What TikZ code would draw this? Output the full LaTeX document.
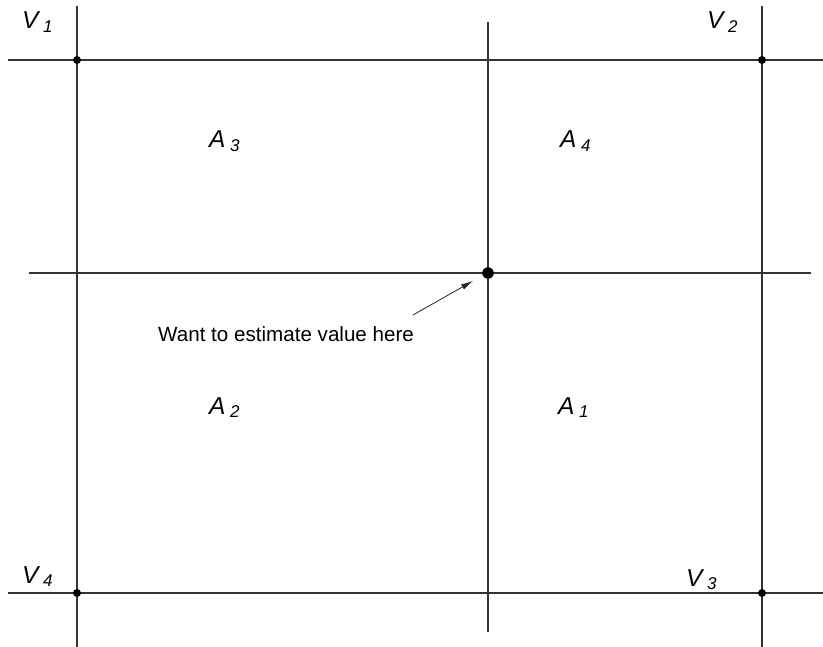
\documentclass[tikz,border=0pt]{standalone}
\usepackage{fontspec}
\setmainfont{Liberation Sans}
\usetikzlibrary{arrows.meta}
\tikzset{
  gridline/.style={line width=1.2pt, black!80},
  corner/.style={circle, fill=black, inner sep=0pt, minimum size=8pt},
  centerdot/.style={circle, fill=black, inner sep=0pt, minimum size=11.5pt},
  lbl/.style={anchor=base west, inner sep=0pt, font=\fontsize{24.5}{28}\selectfont\itshape},
  note/.style={anchor=base west, inner sep=0pt, font=\fontsize{20.6}{24}\selectfont}
}
\newcommand{\sublbl}[2]{#1\hspace{4.5pt}\raisebox{-3.5pt}{\fontsize{17}{18}\selectfont\itshape #2}}
\begin{document}
\begin{tikzpicture}[x=1pt,y=-1pt]
\useasboundingbox (0,0) rectangle (823,647);
% grid line end points
\coordinate (l1t) at (77,6);   \coordinate (l1b) at (77,647);
\coordinate (l2t) at (488,22); \coordinate (l2b) at (488,632);
\coordinate (l3t) at (762,6);  \coordinate (l3b) at (762,647);
\coordinate (h1l) at (8,60);   \coordinate (h1r) at (823,60);
\coordinate (h2l) at (29,273); \coordinate (h2r) at (811,273);
\coordinate (h3l) at (8,593);  \coordinate (h3r) at (823,593);
\draw[gridline] (l1t) -- (l1b);
\draw[gridline] (l2t) -- (l2b);
\draw[gridline] (l3t) -- (l3b);
\draw[gridline] (h1l) -- (h1r);
\draw[gridline] (h2l) -- (h2r);
\draw[gridline] (h3l) -- (h3r);
% dots
\node[corner] (p1) at (77,60) {};
\node[corner] (p2) at (762,60) {};
\node[corner] (p4) at (77,593) {};
\node[corner] (p3) at (762,593) {};
\node[centerdot] (c) at (488,273) {};
% labels
\node[lbl] (v1) at (22,29) {\sublbl{V}{1}};
\node[lbl] (v2) at (707,29) {\sublbl{V}{2}};
\node[lbl] (v4) at (22,583) {\sublbl{V}{4}};
\node[lbl] (v3) at (686,586) {\sublbl{V}{3}};
\node[lbl] (a3) at (209,148) {\sublbl{A}{3}};
\node[lbl] (a4) at (560,148) {\sublbl{A}{4}};
\node[lbl] (a2) at (209,414) {\sublbl{A}{2}};
\node[lbl] (a1) at (558,414) {\sublbl{A}{1}};
\node[note] (want) at (158,342) {Want to estimate value here};
\coordinate (arrstart) at (413,315);
\coordinate (arrtip) at (473,281);
\draw[line width=0.8pt, black!85, -{Latex[length=12pt,width=6pt]}] (arrstart) -- (arrtip);
\end{tikzpicture}
\end{document}
